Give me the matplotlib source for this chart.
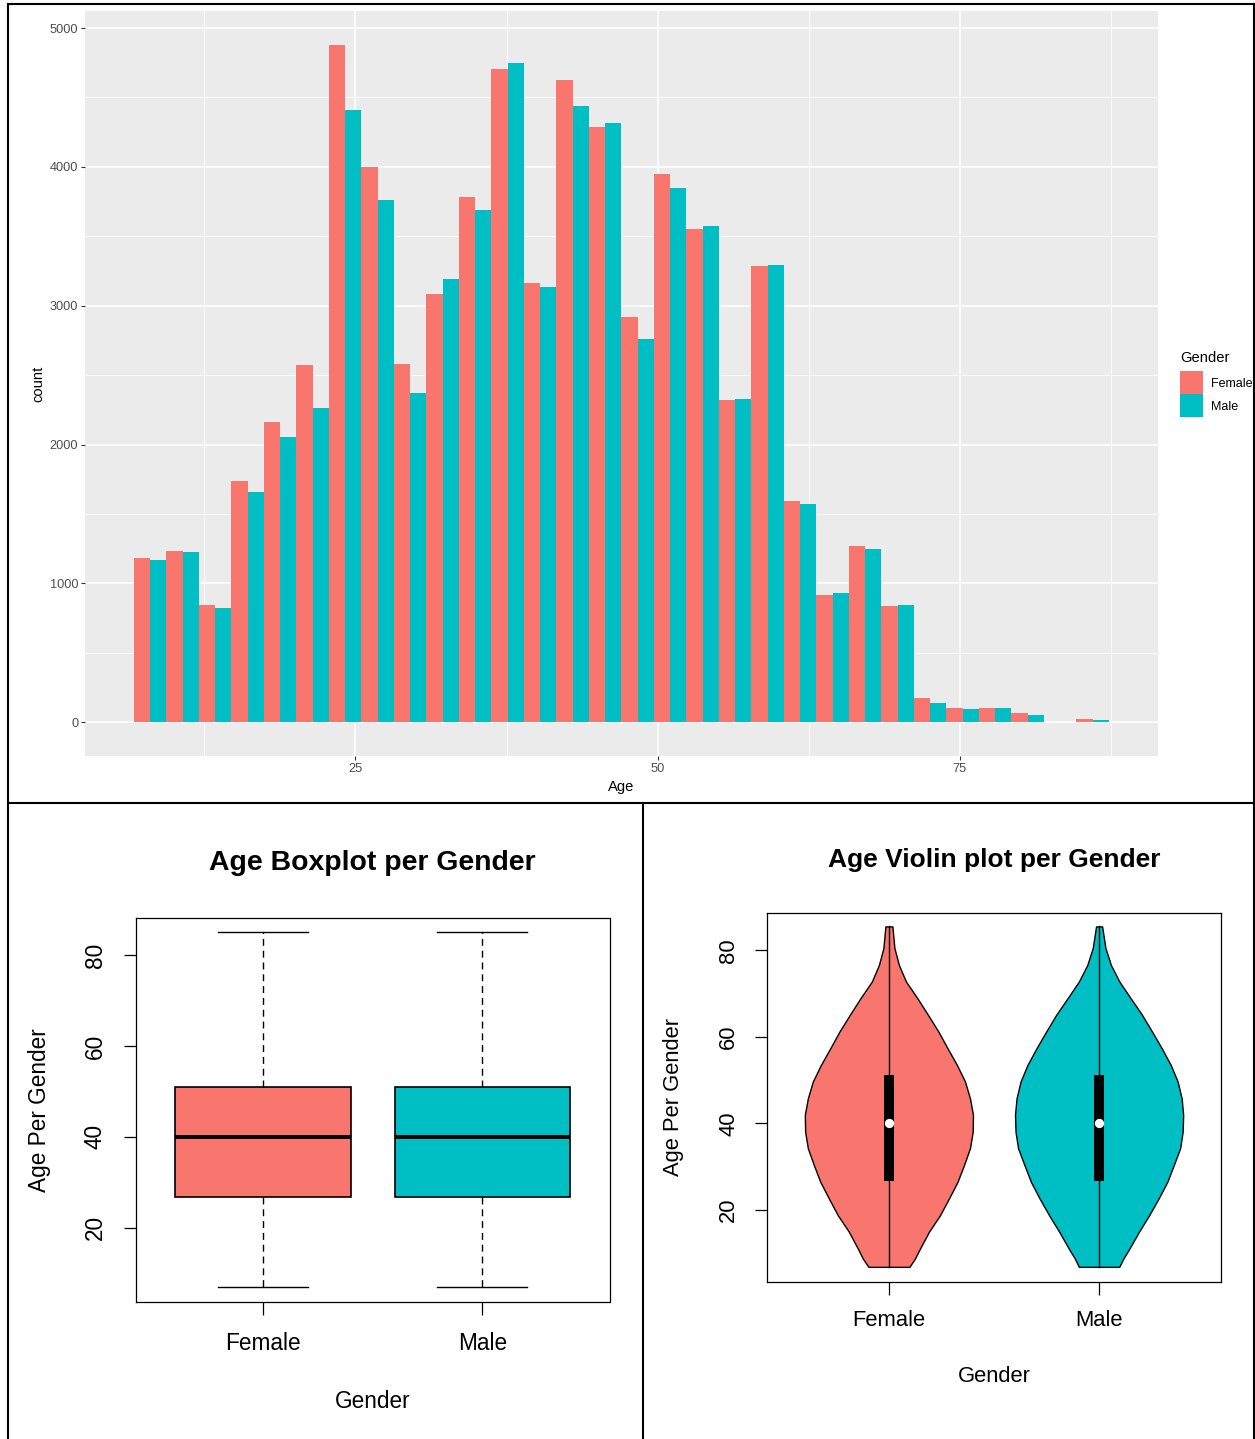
import numpy as np
import matplotlib
matplotlib.use('Agg')
import matplotlib.pyplot as plt
from matplotlib.lines import Line2D

plt.rcParams['font.family'] = ['Liberation Sans', 'DejaVu Sans']

W, H = 1255, 1439

# ---------------- data ----------------
genders = ['Female', 'Male']
colors = ['#F8766D', '#00BFC4']

# histogram (ggplot, 30 bins, centres from age_min to age_max)
age_min, age_max, n_bins = 8.0, 86.0, 30
female_counts = [1180, 1233, 842, 1736, 2163, 2576, 4879, 4001, 2583, 3087,
                 3782, 4706, 3166, 4627, 4284, 2921, 3948, 3550, 2321, 3289,
                 1593, 916, 1271, 837, 177, 103, 103, 65, 0, 21]
male_counts = [1166, 1225, 820, 1655, 2051, 2262, 4413, 3759, 2372, 3190,
               3692, 4749, 3137, 4442, 4313, 2763, 3850, 3571, 2329, 3296,
               1571, 928, 1249, 844, 139, 96, 103, 50, 0, 12]
hist_xticks = [25, 50, 75]
hist_yticks = [0, 1000, 2000, 3000, 4000, 5000]

# boxplot stats: low whisker, Q1, median, Q3, high whisker
box_female = [6.8, 26.7, 40.0, 50.9, 85.1]
box_male = [6.8, 26.7, 40.0, 50.9, 85.1]
box_yticks = [20, 40, 60, 80]

# violin outline (relative density)
violin_ages = [6.9, 8.8, 11.1, 15.0, 18.8, 22.7, 26.5, 30.4, 34.3, 38.1, 42.0,
               45.8, 49.7, 53.5, 57.4, 61.2, 65.1, 68.9, 72.8, 76.6, 80.5, 85.5]
violin_female = [20.5, 26, 31, 40, 51, 60, 68.5, 75, 81, 83.7, 84,
                 81, 76, 68, 58.5, 49.5, 39, 28.5, 17, 10, 5.5, 3.5]
violin_male = [20, 24, 30, 39.5, 49.5, 59, 67.5, 74, 80.3, 82.8, 83.3,
               81.8, 77.8, 71, 62, 52.5, 42.5, 31.3, 20, 11.7, 6.3, 3]
violin_box_female = [26.7, 40.0, 51.2]   # Q1, median, Q3
violin_box_male = [26.7, 40.0, 51.2]


def rect(l, t, r, b):
    return [l / W, 1 - b / H, (r - l) / W, (b - t) / H]


fig = plt.figure(figsize=(W / 100, H / 100), dpi=100)
fig.patch.set_facecolor('white')

# ---------------- histogram ----------------
ax = fig.add_axes(rect(85, 11, 1157.7, 756))
ax.set_facecolor('#EBEBEB')
bw = (age_max - age_min) / (n_bins - 1)
centers = age_min + bw * np.arange(n_bins)
bf = ax.bar(centers - bw / 4, female_counts, width=bw / 2, color=colors[0], linewidth=0)
bm = ax.bar(centers + bw / 4, male_counts, width=bw / 2, color=colors[1], linewidth=0)
lo, hi = centers[0] - bw / 2, centers[-1] + bw / 2
ax.set_xlim(lo - 0.05 * (hi - lo), hi + 0.05 * (hi - lo))
ymax = max(max(female_counts), max(male_counts))
ax.set_ylim(-0.05 * ymax, 1.05 * ymax)
ax.set_xticks(hist_xticks)
ax.set_xticks([t - 12.5 for t in hist_xticks] + [hist_xticks[-1] + 12.5], minor=True)
ax.set_yticks(hist_yticks)
ax.set_yticks([t + 500 for t in hist_yticks[:-1]], minor=True)
ax.grid(which='major', color='white', lw=1.1)
ax.grid(which='minor', color='white', lw=0.55)
ax.set_axisbelow(True)
for s in ax.spines.values():
    s.set_visible(False)
ax.tick_params(which='major', length=2.8, width=0.8, color='#333333',
               labelsize=9.2, labelcolor='#4D4D4D', pad=2)
ax.tick_params(which='minor', length=0)
ax.set_xlabel('Age', fontsize=10.6)
ax.set_ylabel('count', fontsize=10.6)
ax.xaxis.set_label_coords(0.5, -(787 - 756) / 745)
ax.xaxis.label.set_va('center')
ax.yaxis.set_label_coords((38 - 85) / 1072.7, 0.5)
ax.yaxis.label.set_va('center')
leg = ax.legend(handles=[bf, bm], labels=genders, title='Gender',
                loc='upper left', bbox_to_anchor=(1180 / W, 1 - 351 / H),
                bbox_transform=fig.transFigure, frameon=False, fontsize=9,
                title_fontsize=10.6, handlelength=1.84, handleheight=2.45,
                labelspacing=0, handletextpad=0.6, borderpad=0,
                borderaxespad=0, alignment='left')
leg._legend_box.sep = 4.5

# ---------------- boxplot ----------------
ax2 = fig.add_axes(rect(136, 917.7, 609.5, 1302.4))
stats = []
for g, b in zip(genders, [box_female, box_male]):
    stats.append(dict(label=g, whislo=b[0], q1=b[1], med=b[2], q3=b[3], whishi=b[4], fliers=[]))
bp = ax2.bxp(stats, positions=[1, 2], widths=0.8, patch_artist=True,
             showfliers=False, capwidths=0.41,
             boxprops=dict(lw=1.2, edgecolor='black'),
             medianprops=dict(color='black', lw=2.8, solid_capstyle='butt'),
             whiskerprops=dict(color='black', lw=1.0, linestyle=(0, (5, 3.5))),
             capprops=dict(color='black', lw=1.0))
for p, c in zip(bp['boxes'], colors):
    p.set_facecolor(c)
ax2.set_xlim(0.42, 2.58)
ax2.set_ylim(3.5, 88.3)
ax2.set_yticks(box_yticks)
ax2.set_xticks([1, 2])
ax2.set_xticklabels(genders)
for s in ax2.spines.values():
    s.set_linewidth(0.9)
ax2.tick_params(length=9, width=0.9, labelsize=16.3, pad=12)
for t in ax2.get_yticklabels():
    t.set_rotation(90)
    t.set_va('center')
ax2.set_xlabel('Gender', fontsize=16.3)
ax2.set_ylabel('Age Per Gender', fontsize=16.3)
ax2.xaxis.set_label_coords(0.5, -(1401.5 - 1302.4) / 384.7)
ax2.xaxis.label.set_va('center')
ax2.yaxis.set_label_coords((39.4 - 136) / 473.5, 0.5)
ax2.yaxis.label.set_va('center')
ax2.text(0.5, 1 + (917.7 - 862.5) / 384.7, 'Age Boxplot per Gender',
         transform=ax2.transAxes, ha='center', va='center',
         fontsize=20.4, fontweight='bold')

# ---------------- violin ----------------
ax3 = fig.add_axes(rect(767, 913, 1221, 1282))
ages = np.array(violin_ages)
for pos, dens, vb, c in zip([1, 2], [violin_female, violin_male],
                            [violin_box_female, violin_box_male], colors):
    hw = 0.4 * np.array(dens) / max(dens)
    ax3.fill_betweenx(ages, pos - hw, pos + hw, facecolor=c, edgecolor='black', lw=1.0, zorder=2)
    ax3.plot([pos, pos], [ages[0], ages[-1]], color='black', lw=1.0, zorder=3)
    ax3.bar(pos, vb[2] - vb[0], bottom=vb[0], width=0.05, color='black', zorder=4)
    ax3.scatter([pos], [vb[1]], s=45, color='white', zorder=5, linewidths=0)
ax3.set_xlim(0.42, 2.58)
ax3.set_ylim(3.4, 88.6)
ax3.set_yticks(box_yticks)
ax3.set_xticks([1, 2])
ax3.set_xticklabels(genders)
for s in ax3.spines.values():
    s.set_linewidth(0.9)
ax3.tick_params(length=9, width=0.9, labelsize=15.8, pad=11)
for t in ax3.get_yticklabels():
    t.set_rotation(90)
    t.set_va('center')
ax3.set_xlabel('Gender', fontsize=15.8)
ax3.set_ylabel('Age Per Gender', fontsize=15.8)
ax3.xaxis.set_label_coords(0.5, -(1376.6 - 1282) / 369)
ax3.xaxis.label.set_va('center')
ax3.yaxis.set_label_coords((673.8 - 767) / 454, 0.5)
ax3.yaxis.label.set_va('center')
ax3.text(0.5, 1 + (913 - 860.5) / 369, 'Age Violin plot per Gender',
         transform=ax3.transAxes, ha='center', va='center',
         fontsize=19.0, fontweight='bold')

# ---------------- table borders ----------------
def hline(y, x0, x1):
    fig.add_artist(Line2D([x0 / W, x1 / W], [1 - y / H, 1 - y / H], color='black', lw=1.5))


def vline(x, y0, y1):
    fig.add_artist(Line2D([x / W, x / W], [1 - y0 / H, 1 - y1 / H], color='black', lw=1.5))


hline(3.5, 8, 1254)
hline(803, 8, 1254)
vline(8, 3.5, 1439)
vline(1254, 3.5, 1439)
vline(643, 803, 1439)

fig.savefig('out.png', dpi=100, facecolor='white')
